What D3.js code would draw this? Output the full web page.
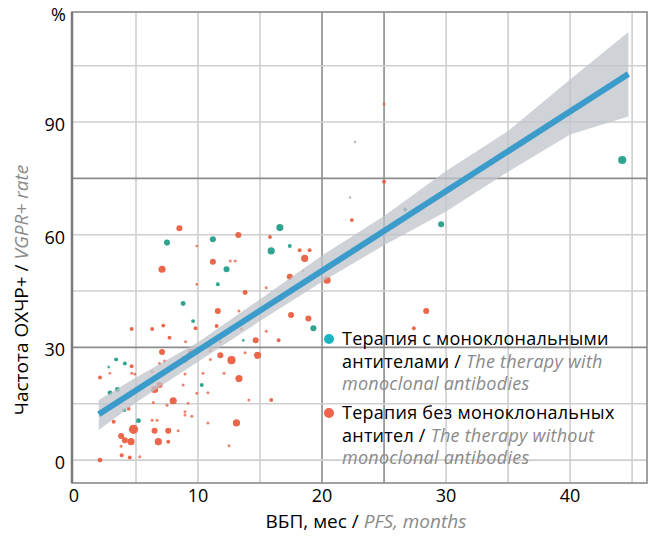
<!DOCTYPE html>
<html lang="ru">
<head>
    <meta charset="UTF-8">
    <script src="https://d3js.org/d3.v7.min.js"></script>
    <title>ОХЧР+ vs ВБП</title>
    <style>
        body { margin: 0; background: #fff; }
        text { font-family: "Open Sans", sans-serif; }
    </style>
</head>
<body>
    <svg id="svg1" width="649" height="536"></svg>
<script>

// [PFS months, VGPR+ %, n]
let withMab = [
    [44.2, 79.9, 110], [26.7, 66.7, 25], [29.6, 62.8, 60], [16.6, 61.9, 85], [15.9, 55.7, 85],
    [17.4, 57.0, 25], [19.3, 35.1, 60], [11.2, 58.8, 60], [12.3, 50.8, 60], [11.6, 46.8, 25],
    [8.8, 41.7, 40], [7.5, 57.9, 60], [9.6, 37.0, 25], [13.65, 31.9, 15], [10.3, 20.0, 25],
    [3.4, 26.8, 25], [4.1, 25.7, 25], [2.8, 24.8, 15], [2.9, 17.9, 40], [3.5, 18.8, 40],
    [4.05, 13.3, 25], [5.2, 10.5, 40]
]

let withoutMab = [
    [25.0, 94.8, 15], [25.0, 74.1, 25], [22.4, 63.9, 25], [15.8, 59.4, 25], [18.2, 55.9, 25],
    [19.0, 55.9, 25], [18.6, 53.7, 85], [17.4, 48.8, 60], [20.4, 47.9, 85], [17.5, 38.6, 60],
    [18.9, 37.7, 60], [28.4, 39.7, 60], [27.4, 35.1, 25], [8.5, 61.7, 60], [13.25, 59.9, 60],
    [9.9, 57.0, 12], [11.2, 52.8, 60], [12.6, 53.0, 15], [13.0, 53.0, 15], [7.1, 50.8, 85],
    [9.9, 46.8, 12], [13.8, 44.6, 40], [15.5, 45.9, 15], [11.6, 39.7, 60], [13.3, 39.7, 15],
    [9.8, 35.1, 25], [11.5, 35.7, 25], [13.5, 34.9, 15], [15.5, 34.3, 15], [14.65, 31.9, 60],
    [16.5, 31.9, 25], [9.0, 31.5, 15], [4.65, 34.9, 25], [6.3, 34.9, 25], [7.2, 35.8, 25],
    [7.7, 32.6, 25], [7.1, 28.8, 60], [4.65, 25.0, 25], [4.65, 23.1, 15], [4.9, 22.9, 15],
    [2.1, 22.0, 25], [2.9, 23.1, 12], [6.3, 23.5, 15], [6.9, 25.7, 15], [7.3, 26.4, 15],
    [6.5, 18.8, 85], [6.9, 20.0, 60], [8.0, 15.8, 85], [4.4, 13.7, 25], [3.1, 14.6, 15],
    [6.4, 15.3, 15], [7.5, 14.6, 15], [3.2, 10.2, 25], [6.3, 10.6, 15], [6.7, 10.6, 15],
    [4.8, 8.2, 140], [3.8, 6.4, 60], [4.1, 5.3, 60], [4.6, 4.9, 85], [6.5, 7.8, 60],
    [7.6, 7.8, 60], [8.4, 7.8, 15], [6.8, 4.9, 85], [7.6, 4.9, 25], [3.8, 3.7, 15],
    [3.85, 1.3, 25], [4.5, 0.7, 25], [5.3, 0.9, 15], [2.1, 0.0, 40], [8.95, 12.9, 15],
    [8.95, 12.0, 15], [9.5, 11.7, 15], [10.8, 9.9, 15], [13.1, 9.9, 85], [12.5, 3.8, 15],
    [9.9, 17.8, 15], [10.8, 17.9, 15], [9.2, 15.1, 12], [8.95, 22.9, 15], [10.4, 23.1, 15],
    [9.5, 28.5, 110], [8.9, 26.8, 85], [11.8, 27.9, 60], [12.7, 26.6, 110], [14.8, 27.9, 85],
    [13.8, 28.6, 15], [11.0, 26.8, 15], [12.1, 23.1, 15], [13.3, 21.7, 85], [8.8, 20.0, 15],
    [14.1, 16.0, 15], [15.9, 16.0, 25], [11.0, 29.1, 15], [11.8, 31.5, 15]
]

let faintPts = [[22.66, 84.7, 10], [22.26, 69.9, 10], [18.5, 50.4, 12]]

// fit line and confidence band
let fitX = [2, 44.7]
let fitY = [12.2, 102.8]
let bandX = [2, 5, 10, 15, 20, 25, 30, 35, 40, 44.7]
let bandLo = [8.0, 15.3, 26.2, 37.0, 47.5, 57.2, 66.2, 76.8, 86.7, 91.5]
let bandHi = [16.0, 22.0, 31.4, 42.8, 54.5, 65.0, 77.0, 87.6, 101.3, 114.0]

let xTicks = [0, 10, 20, 30, 40]
let yTicks = [0, 30, 60, 90]
let xGrid = d3.range(5, 46, 5)
let yGrid = d3.range(0, 106, 15)
let darkX = [20, 25]
let darkY = [30, 75]

let legendItems = [
    { color: "#1db4c2", ru1: "Терапия с моноклональными", ru2: "антителами", en1: "The therapy with", en2: "monoclonal antibodies" },
    { color: "#f0634c", ru1: "Терапия без моноклональных", ru2: "антител", en1: "The therapy without", en2: "monoclonal antibodies" }
]

let svg = d3.select("#svg1")
let x = d3.scaleLinear().domain([-0.16, 46.2]).range([72, 647])
let y = d3.scaleLinear().domain([-6.1, 119.3]).range([483, 12])
let r = d3.scaleSqrt().domain([0, 140]).range([0, 4.6])

// grid
svg.append("g").selectAll("line").data(xGrid).enter().append("line")
    .attr("x1", d => x(d)).attr("x2", d => x(d))
    .attr("y1", y.range()[0]).attr("y2", y.range()[1])
    .attr("stroke", d => darkX.includes(d) ? "#8c8c8c" : "#cfcfcf")
    .attr("stroke-width", 1.6)

svg.append("g").selectAll("line").data(yGrid).enter().append("line")
    .attr("y1", d => y(d)).attr("y2", d => y(d))
    .attr("x1", x.range()[0]).attr("x2", x.range()[1])
    .attr("stroke", d => darkY.includes(d) ? "#8c8c8c" : "#cfcfcf")
    .attr("stroke-width", 1.6)

svg.append("rect")
    .attr("x", 72).attr("y", 12).attr("width", 575).attr("height", 471)
    .attr("fill", "none").attr("stroke", "#8a8a8a").attr("stroke-width", 1.6)
svg.append("line").attr("x1", 72).attr("x2", 72).attr("y1", 12).attr("y2", 483)
    .attr("stroke", "#7a7a7a").attr("stroke-width", 2.5)

// points
function drawPts(data, fill) {
    svg.append("g").selectAll("circle").data(data).enter().append("circle")
        .attr("cx", d => x(d[0])).attr("cy", d => y(d[1]))
        .attr("r", d => r(d[2]))
        .attr("fill", fill)
        .attr("fill-opacity", d => d[2] < 20 ? 0.75 : 0.92)
}
drawPts(faintPts, "#a89a9c")
drawPts(withoutMab, "#e85a3c")
drawPts(withMab, "#1f9c88")

// band + fit
let band = bandX.map((d, i) => [d, bandLo[i], bandHi[i]])
svg.append("path").datum(band)
    .attr("d", d3.area().x(d => x(d[0])).y0(d => y(d[1])).y1(d => y(d[2])))
    .attr("fill", "#bfc3c8").attr("fill-opacity", 0.75)

svg.append("path").datum(fitX.map((d, i) => [d, fitY[i]]))
    .attr("d", d3.line().x(d => x(d[0])).y(d => y(d[1])))
    .attr("stroke", "#3b9ccb").attr("stroke-width", 6).attr("fill", "none")

// ticks
svg.append("g").selectAll("text").data(xTicks).enter().append("text")
    .attr("x", d => x(d)).attr("y", 502)
    .attr("text-anchor", "middle").attr("font-size", 18)
    .text(d => d)

svg.append("g").selectAll("text").data(yTicks).enter().append("text")
    .attr("x", 65).attr("y", d => y(d) + 9)
    .attr("text-anchor", "end").attr("font-size", 18)
    .text(d => d)

svg.append("text").attr("x", 66).attr("y", 21).attr("text-anchor", "end")
    .attr("font-size", 18).text("%")

// axis titles
let xt = svg.append("text").attr("x", 366).attr("y", 528)
    .attr("text-anchor", "middle").attr("font-size", 19)
xt.append("tspan").text("ВБП, мес / ")
xt.append("tspan").attr("fill", "#8a8a8a").attr("font-style", "italic").text("PFS, months")

let yt = svg.append("text")
    .attr("transform", "translate(28,290) rotate(-90)")
    .attr("text-anchor", "middle").attr("font-size", 19)
yt.append("tspan").text("Частота ОХЧР+ / ")
yt.append("tspan").attr("fill", "#8a8a8a").attr("font-style", "italic").text("VGPR+ rate")

// legend
let lg = svg.append("g").selectAll("g").data(legendItems).enter().append("g")
    .attr("transform", (d, i) => `translate(329,${339 + i * 74})`)
    .attr("font-size", 18).attr("letter-spacing", 0.25)
lg.append("circle").attr("r", 5).attr("fill", d => d.color)
lg.append("text").attr("x", 13).attr("y", 6).text(d => d.ru1)
let l2 = lg.append("text").attr("x", 13).attr("y", 29)
l2.append("tspan").text(d => d.ru2 + " / ")
l2.append("tspan").attr("fill", "#8a8a8a").attr("font-style", "italic").text(d => d.en1)
lg.append("text").attr("x", 13).attr("y", 51)
    .attr("fill", "#8a8a8a").attr("font-style", "italic").text(d => d.en2)

</script>
</body>
</html>
